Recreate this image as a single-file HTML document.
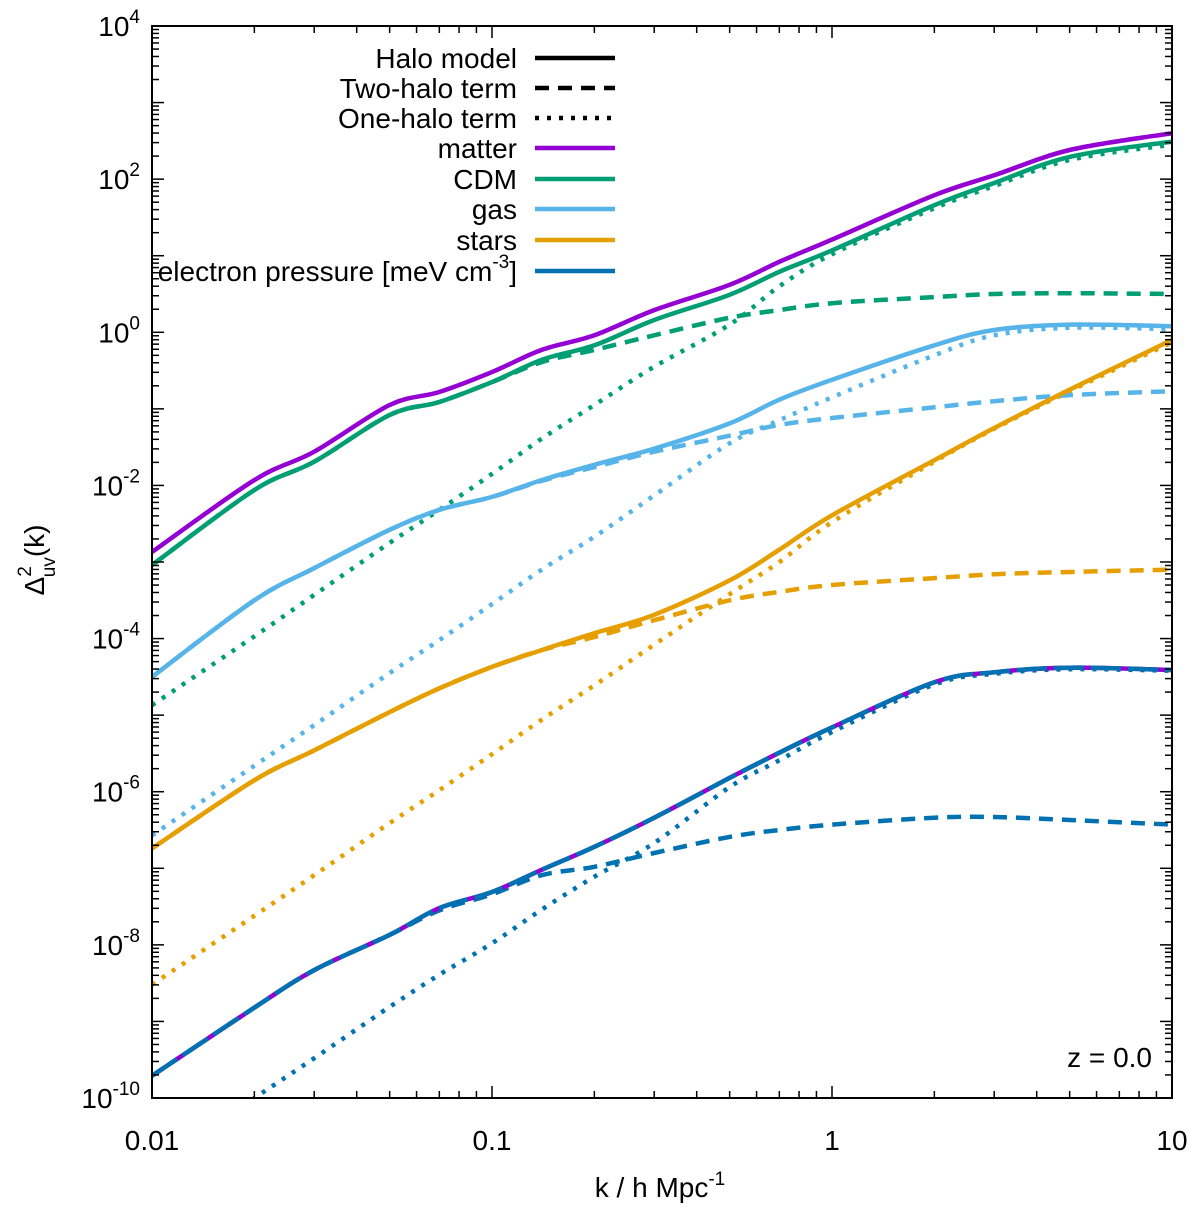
<!DOCTYPE html>
<html><head><meta charset="utf-8"><style>
body{margin:0;background:#fff}
svg text{font-family:"Liberation Sans",sans-serif;fill:#000}
</style></head><body>
<svg id="chart" width="1200" height="1213" viewBox="0 0 1200 1213" xmlns="http://www.w3.org/2000/svg">
<defs><clipPath id="clip"><rect x="152" y="26" width="1020" height="1072"/></clipPath></defs>
<g id="curves" clip-path="url(#clip)"></g>
<rect x="152" y="26" width="1020" height="1072" fill="none" stroke="#000" stroke-width="2"/>
<g id="axes"></g>
<g id="legend"></g>
<text x="1152" y="1067" font-size="28" text-anchor="end">z = 0.0</text>
<text x="660" y="1197" font-size="28" text-anchor="middle">k / h Mpc<tspan dy="-12" font-size="19">-1</tspan></text>
<text transform="translate(44,560) rotate(-90)" font-size="28" text-anchor="middle">Δ<tspan dy="-13" font-size="19">2</tspan><tspan dy="24" dx="-11" font-size="19">uv</tspan><tspan dy="-11">(k)</tspan></text>
</svg>
<script>
// k grid (h/Mpc)
const kVals=[0.01,0.02,0.03,0.05,0.07,0.1,0.14,0.2,0.3,0.5,0.7,1,2,3,5,10];
// log10 of Delta^2 values
const matterTotal=[-2.87,-1.93,-1.56,-0.95,-0.78,-0.52,-0.23,-0.04,0.29,0.62,0.92,1.21,1.79,2.05,2.38,2.60];
const cdmTotal=[-3.04,-2.06,-1.69,-1.08,-0.91,-0.65,-0.36,-0.17,0.16,0.49,0.79,1.07,1.66,1.95,2.29,2.49];
const cdmTwo=[-3.04,-2.06,-1.69,-1.08,-0.91,-0.65,-0.39,-0.23,-0.04,0.19,0.29,0.38,0.46,0.50,0.51,0.50];
const cdmOne=[-4.87,-3.97,-3.43,-2.75,-2.32,-1.85,-1.39,-0.95,-0.45,0.10,0.60,1.02,1.62,1.91,2.25,2.45];
const gasTotal=[-4.50,-3.50,-3.08,-2.58,-2.32,-2.15,-1.93,-1.73,-1.52,-1.19,-0.88,-0.62,-0.17,0.03,0.10,0.08];
const gasTwo=[-4.50,-3.50,-3.08,-2.58,-2.32,-2.15,-1.94,-1.76,-1.56,-1.35,-1.21,-1.12,-0.98,-0.90,-0.82,-0.77];
const gasOne=[-6.57,-5.66,-5.13,-4.45,-4.02,-3.55,-3.10,-2.67,-2.13,-1.45,-1.15,-0.85,-0.30,-0.04,0.06,0.04];
const starsTotal=[-6.74,-5.85,-5.46,-4.96,-4.65,-4.37,-4.15,-3.93,-3.69,-3.24,-2.84,-2.39,-1.67,-1.25,-0.75,-0.10];
const starsTwo=[-6.74,-5.85,-5.46,-4.96,-4.65,-4.37,-4.15,-3.98,-3.76,-3.50,-3.39,-3.30,-3.21,-3.16,-3.13,-3.10];
const starsOne=[-8.52,-7.62,-7.09,-6.41,-5.98,-5.51,-5.06,-4.61,-4.08,-3.42,-3.00,-2.48,-1.69,-1.26,-0.77,-0.13];
const presTotal=[-9.71,-8.82,-8.33,-7.87,-7.52,-7.31,-7.02,-6.72,-6.34,-5.82,-5.49,-5.16,-4.57,-4.44,-4.38,-4.41];
const presTwo=[-9.71,-8.82,-8.33,-7.87,-7.55,-7.34,-7.09,-6.98,-6.80,-6.59,-6.50,-6.43,-6.34,-6.33,-6.37,-6.43];
const presOne=[-10.89,-10.00,-9.48,-8.81,-8.39,-7.98,-7.54,-7.11,-6.67,-5.94,-5.59,-5.22,-4.60,-4.46,-4.40,-4.42];
const xTicks=[0.01,0.1,1,10];
const xTickLabels=["0.01","0.1","1","10"];
const yTickExps=[-10,-8,-6,-4,-2,0,2,4];

const NS="http://www.w3.org/2000/svg";
const X0=152,X1=1172,Y0=26,Y1=1098;
function xs(k){return X0+(Math.log10(k)+2)/3*(X1-X0);}
function ys(l){return Y1-(l+10)/14*(Y1-Y0);}
function mk(t,a,p){const e=document.createElementNS(NS,t);for(const k in a)e.setAttribute(k,a[k]);p.appendChild(e);return e;}
const C={matter:"#9400d3",cdm:"#009e73",gas:"#56b4e9",stars:"#e69f00",pres:"#0072b2"};
const DASH="14 9",DOT="4 8";
const curves=document.getElementById('curves');
function smoothPath(arr){
  const P=arr.map((v,i)=>[xs(kVals[i]),ys(v)]);
  let d="M"+P[0][0].toFixed(1)+","+P[0][1].toFixed(1);
  for(let i=0;i<P.length-1;i++){
    const p0=P[Math.max(0,i-1)],p1=P[i],p2=P[i+1],p3=P[Math.min(P.length-1,i+2)];
    const c1=[p1[0]+(p2[0]-p0[0])/6,p1[1]+(p2[1]-p0[1])/6];
    const c2=[p2[0]-(p3[0]-p1[0])/6,p2[1]-(p3[1]-p1[1])/6];
    d+="C"+c1[0].toFixed(1)+","+c1[1].toFixed(1)+" "+c2[0].toFixed(1)+","+c2[1].toFixed(1)+" "+p2[0].toFixed(1)+","+p2[1].toFixed(1);
  }
  return d;
}
function draw(arr,color,dash,name){
  const p=mk('path',{d:smoothPath(arr),fill:"none",stroke:color,"stroke-width":4.5,"stroke-linejoin":"round","stroke-dasharray":dash||"none"},curves);
  
  
}
draw(cdmOne,C.cdm,DOT,'cdm-one-halo');
draw(gasOne,C.gas,DOT,'gas-one-halo');
draw(starsOne,C.stars,DOT,'stars-one-halo');
draw(presOne,C.pres,DOT,'pressure-one-halo');
draw(cdmTwo,C.cdm,DASH,'cdm-two-halo');
draw(gasTwo,C.gas,DASH,'gas-two-halo');
draw(starsTwo,C.stars,DASH,'stars-two-halo');
draw(presTwo,C.pres,DASH,'pressure-two-halo');
draw(matterTotal,C.matter,null,'matter-halo-model');
draw(cdmTotal,C.cdm,null,'cdm-halo-model');
draw(gasTotal,C.gas,null,'gas-halo-model');
draw(starsTotal,C.stars,null,'stars-halo-model');
draw(presTotal,C.matter,null,'pressure-matter-underlay');
draw(presTotal,C.pres,"30 7",'pressure-halo-model');

const axes=document.getElementById('axes');
for(let d=-2;d<1;d++){for(let m=1;m<10;m++){const k=m*Math.pow(10,d);const x=xs(k);const L=m==1?12:7;
 const t1=mk('line',{x1:x,x2:x,y1:Y1,y2:Y1-L,stroke:"#000","stroke-width":1.5},axes);
 
 const t2=mk('line',{x1:x,x2:x,y1:Y0,y2:Y0+L,stroke:"#000","stroke-width":1.5},axes);
 }}
xTicks.forEach((k,i)=>{const t=mk('text',{x:xs(k),y:1150,"font-size":28,"text-anchor":"middle"},axes);t.textContent=xTickLabels[i];
 });
for(let e=-10;e<4;e++){for(let m=1;m<10;m++){const y=ys(e+Math.log10(m));const L=m==1?12:7;
 const t1=mk('line',{x1:X0,x2:X0+L,y1:y,y2:y,stroke:"#000","stroke-width":1.5},axes);
 
 const t2=mk('line',{x1:X1,x2:X1-L,y1:y,y2:y,stroke:"#000","stroke-width":1.5},axes);
 }}
yTickExps.forEach(e=>{const t=mk('text',{x:140,y:ys(e)+10,"font-size":28,"text-anchor":"end"},axes);
 t.innerHTML='10<tspan dy="-13" font-size="19">'+e+'</tspan>';
 });
const legNames=["Halo model","Two-halo term","One-halo term","matter","CDM","gas","stars","electron pressure [meV cm"];
const legColors=["#000","#000","#000",C.matter,C.cdm,C.gas,C.stars,C.pres];
const legDash=[null,DASH,DOT,null,null,null,null,null];
const leg=document.getElementById('legend');
const rowY=[58,88,118,148,179,209,240,271];
legNames.forEach((n,i)=>{
 const t=mk('text',{x:517,y:rowY[i]+10,"font-size":28,"text-anchor":"end"},leg);
 t.textContent=n;
 
 const l=mk('line',{x1:535,x2:615,y1:rowY[i],y2:rowY[i],stroke:legColors[i],"stroke-width":4.5,"stroke-dasharray":legDash[i]||"none"},leg);
 
});
const last=leg.querySelectorAll('text')[7];
last.innerHTML='electron pressure [meV cm<tspan dy="-13" font-size="19">-3</tspan><tspan dy="13">]</tspan>';
</script>
</body></html>
